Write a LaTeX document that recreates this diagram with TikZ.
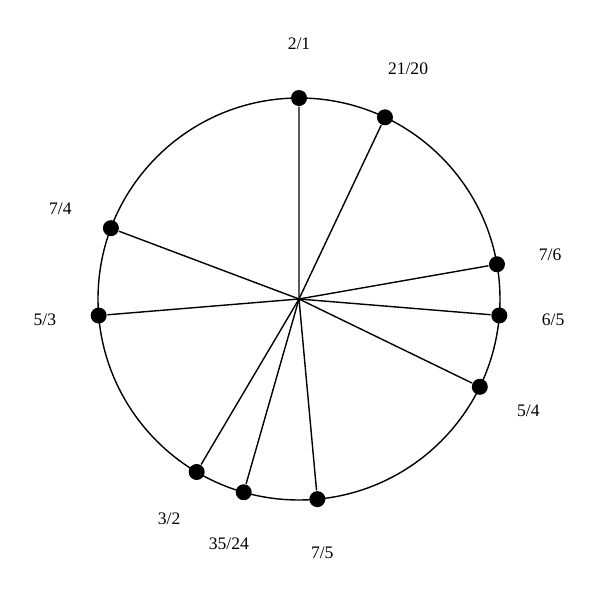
\documentclass[tikz,border=0pt]{standalone}
\usepackage{fontspec}
\setmainfont{Liberation Serif}

\begin{document}
\begin{tikzpicture}[x=0.025cm,y=0.025cm,line width=1pt]

\tikzset{
    ratio dot/.style={circle,fill=black,inner sep=0pt,minimum size=0.4cm},
    ratio label/.style={font=\fontsize{12.5}{14}\selectfont}
}

\useasboundingbox (-299,-301) rectangle (301,299);

\coordinate (c) at (0,0);

%% Octave circle
\draw (c) circle (201);

%% Ratios, placed at 360*log2(p/q) clockwise from the top
\foreach \p/\q/\id in {2/1/octave,21/20/a,7/6/b,6/5/c,5/4/d,7/5/e,35/24/f,3/2/g,5/3/h,7/4/i}{
    \pgfmathsetmacro\ang{90-360*ln(\p/\q)/ln(2)}
    \node[ratio dot] (d\id) at (\ang:201) {};
    \node[ratio label] (l\id) at (\ang:255) {\p/\q};
    \draw (c) -- (d\id);
}

\end{tikzpicture}
\end{document}
